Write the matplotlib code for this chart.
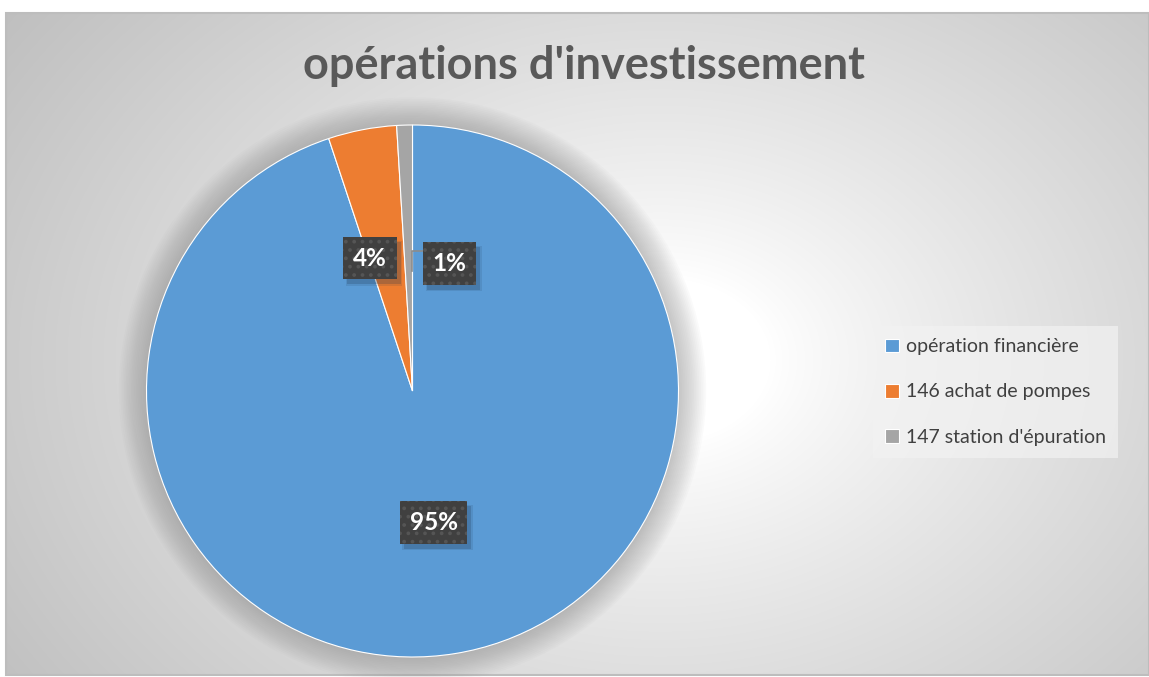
import numpy as np
import matplotlib
matplotlib.use("Agg")
import matplotlib.pyplot as plt
from matplotlib.patches import Rectangle, Circle

# ---- data ----
categories = ["opération financière", "146 achat de pompes", "147 station d'épuration"]
values = [94.9, 4.15, 0.95]
pct_labels = ["95%", "4%", "1%"]
colors = ["#5B9BD5", "#ED7D31", "#A5A5A5"]
title = "opérations d'investissement"

W, H = 1149, 677
plt.rcParams['font.family'] = ['Lato', 'DejaVu Sans']
plt.rcParams['hatch.linewidth'] = 1.5
fig = plt.figure(figsize=(W / 100, H / 100), dpi=100)

# ---- background: chart area with radial gradient ----
bg = fig.add_axes([0, 0, 1, 1])
bg.set_xlim(0, W)
bg.set_ylim(H, 0)
bg.axis('off')
x0, y0, x1, y1 = 6, 13, W, H - 2
yy, xx = np.mgrid[y0:y1, x0:x1]
cx, cy = 660, 360
d = np.hypot((xx - cx) / 1.0, (yy - cy) / 0.75)
dmax = np.hypot((x0 - cx), (y0 - cy) / 0.75)
t = np.clip((d - 110) / (dmax - 110), 0, 1)
v = 1.0 - 0.25 * t ** 0.85
img = np.dstack([v, v, v])
bg.imshow(img, extent=[x0, x1, y1, y0], aspect='auto', interpolation='bilinear', zorder=0)
bg.add_patch(Rectangle((x0, y0), x1 - x0, y1 - y0, fill=False, edgecolor='#bdbdbd', lw=1.5, zorder=1))

# title
fig.text(584 / W, 1 - 66 / H, title, ha='center', va='center', fontsize=32.5,
         fontweight='bold', color='#595959')

# ---- pie ----
pcx, pcy, R = 412.5, 391, 266
ax = fig.add_axes([(pcx - R) / W, (H - pcy - R) / H, 2 * R / W, 2 * R / H])
ax.set_aspect('equal')
ax.axis('off')
# soft shadow halo
for i in range(16):
    ax.add_patch(Circle((0, 0), 1.0 + 0.0065 * (16 - i), color='#7f7f7f', alpha=0.03, lw=0,
                        zorder=0, clip_on=False))
wedges, _ = ax.pie(values, colors=colors, startangle=90, counterclock=False,
                   wedgeprops=dict(linewidth=0.8, edgecolor='white'), radius=1.0)
for w in wedges:
    w.set_zorder(2)
    w.set_clip_on(False)
ax.set_xlim(-1, 1)
ax.set_ylim(-1, 1)

offsets = [(0.0, 0.0), (-0.065, 0.008), (0.155, -0.02)]
label_texts = []
for w, lab, off in zip(wedges, pct_labels, offsets):
    ang = np.deg2rad((w.theta1 + w.theta2) / 2)
    lx = 0.5 * np.cos(ang) + off[0]
    ly = 0.5 * np.sin(ang) + off[1]
    txt = ax.text(lx, ly, lab, ha='center', va='center', fontsize=17.5, fontweight='bold',
                  color='white', zorder=4,
                  bbox=dict(boxstyle='square,pad=0.4', facecolor='#404040', edgecolor='#555555',
                            hatch='..', lw=0))
    label_texts.append(txt)

# leader line for the small slice
ax.plot([0.0, 0.0, 0.045], [0.45, 0.525, 0.525], color='#8c8c8c', lw=1.2, zorder=3)

# soft shadows behind the label boxes (computed from rendered box extents)
fig.canvas.draw()
for txt in label_texts:
    bb = txt.get_bbox_patch().get_window_extent()
    for k, a in [(0, 0.22), (1.5, 0.12)]:
        ax.add_patch(Rectangle((bb.x0 + 4 - k, bb.y0 - 5 - k), bb.width + 2 * k, bb.height + 2 * k,
                               transform=None, facecolor='#1f3550', alpha=a, lw=0, zorder=3))

# ---- legend ----
leg = fig.legend(wedges, categories, loc='center left', bbox_to_anchor=(863 / W, 1 - 392 / H),
                 frameon=True, fontsize=14, handlelength=0.7, handleheight=0.7,
                 handletextpad=0.35, labelspacing=1.45, borderpad=0.65, fancybox=False,
                 labelcolor='#404040')
leg.get_frame().set_facecolor('#f2f2f2')
leg.get_frame().set_alpha(0.7)
leg.get_frame().set_linewidth(0)

fig.savefig('out.png', dpi=100)
